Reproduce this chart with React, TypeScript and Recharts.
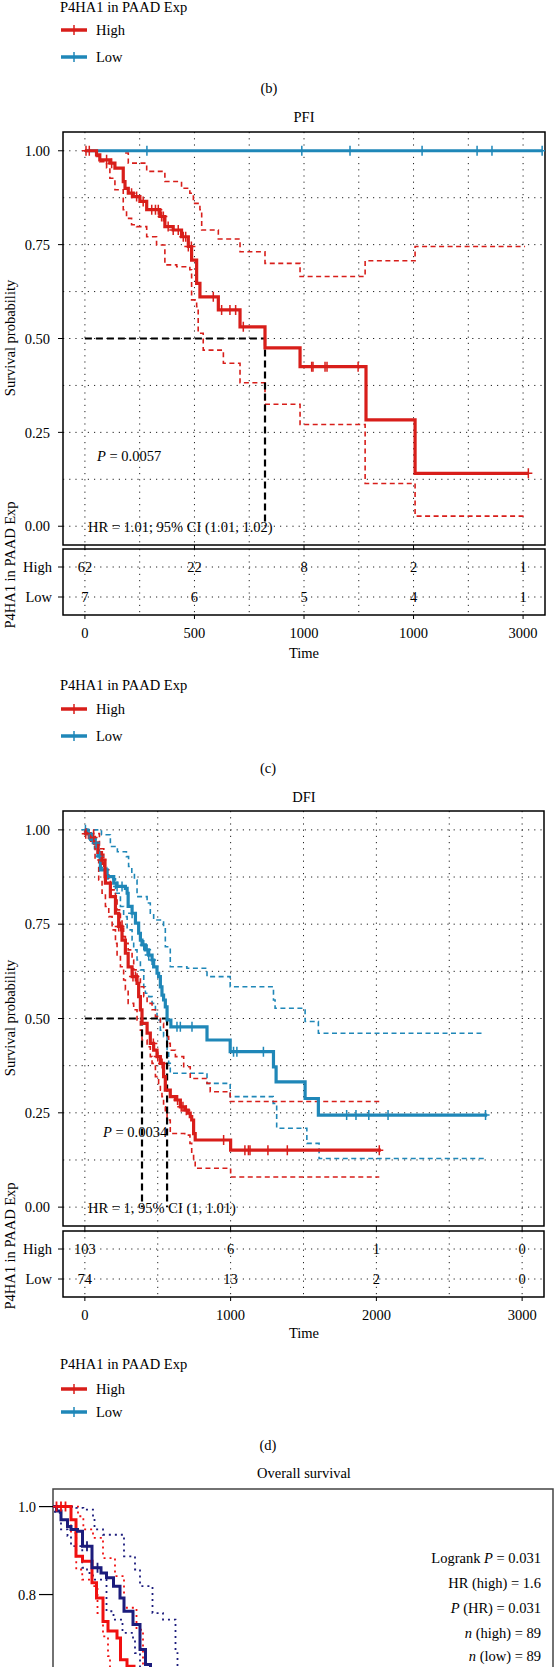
import React from 'react';
import {
  ComposedChart,
  Line,
  Scatter,
  XAxis,
  YAxis,
  CartesianGrid,
  ReferenceArea,
  ReferenceLine,
} from 'recharts';

const FONT = '"Liberation Serif", "Times New Roman", Times, serif';
const FS = 14.5;
const RED = '#D81E1A';
const BLUE = '#1F87B8';
const OS_RED = '#F01010';
const OS_NAVY = '#1C1C7C';

// ---------------- PFI data ----------------
const pfiTimes = [0, 500, 1000, 1500, 2000];
const pfiMinor = [250, 750, 1250, 1750];
const pfiTickLabels = ['0', '500', '1000', '1000', '3000'];
const pfiRiskHigh = [62, 22, 8, 2, 1];
const pfiRiskLow = [7, 6, 5, 4, 1];
const pfiHigh = [[0, 1], [53, 0.989], [68, 0.976], [114, 0.967], [137, 0.954], [175, 0.918], [183, 0.9], [198, 0.887], [221, 0.878], [251, 0.865], [282, 0.843], [342, 0.825], [365, 0.798], [403, 0.789], [441, 0.771], [472, 0.745], [487, 0.709], [510, 0.647], [525, 0.611], [609, 0.576], [708, 0.531], [822, 0.475], [982, 0.425], [1283, 0.283], [1507, 0.141], [2024, 0.141]];
const pfiHighUpper = [[0, 1], [175, 0.994], [198, 0.967], [282, 0.945], [365, 0.918], [441, 0.9], [479, 0.887], [495, 0.86], [525, 0.843], [533, 0.789], [609, 0.765], [708, 0.731], [822, 0.7], [982, 0.665], [1279, 0.707], [1507, 0.745], [2009, 0.745]];
const pfiHighLower = [[0, 1], [53, 0.985], [68, 0.971], [99, 0.954], [114, 0.927], [137, 0.896], [175, 0.843], [190, 0.82], [213, 0.803], [236, 0.798], [282, 0.771], [327, 0.749], [365, 0.696], [419, 0.691], [479, 0.683], [487, 0.603], [510, 0.585], [517, 0.514], [540, 0.469], [632, 0.434], [708, 0.382], [822, 0.325], [982, 0.271], [1279, 0.114], [1507, 0.027], [2009, 0.027]];
const pfiLow = [[0, 1], [2087, 1]];
const pfiHighCensor = [5, 20, 99, 122, 213, 236, 266, 305, 322, 335, 350, 358, 380, 403, 426, 449, 460, 472, 486, 586, 624, 662, 688, 723, 1035, 1041, 1096, 1105, 1247, 2024];
const pfiLowCensor = [283, 990, 1210, 1539, 1790, 1858, 2087];
const pfiMedians = [822];

// ---------------- DFI data ----------------
const dfiTimes = [0, 1000, 2000, 3000];
const dfiMinor = [500, 1500, 2500];
const dfiTickLabels = ['0', '1000', '2000', '3000'];
const dfiRiskHigh = [103, 6, 1, 0];
const dfiRiskLow = [74, 13, 2, 0];
const dfiHigh = [[0, 1], [4, 0.99], [30, 0.98], [66, 0.965], [90, 0.94], [114, 0.92], [138, 0.876], [141, 0.859], [175, 0.823], [210, 0.779], [232, 0.744], [255, 0.708], [278, 0.673], [297, 0.637], [324, 0.611], [358, 0.593], [369, 0.558], [381, 0.523], [392, 0.487], [427, 0.461], [449, 0.434], [472, 0.416], [495, 0.399], [518, 0.381], [540, 0.346], [552, 0.31], [586, 0.293], [621, 0.284], [655, 0.266], [689, 0.257], [709, 0.249], [723, 0.24], [733, 0.231], [746, 0.195], [757, 0.178], [1000, 0.151], [2031, 0.151]];
const dfiHighUpper = [[0, 1], [60, 0.99], [100, 0.95], [130, 0.894], [164, 0.867], [175, 0.841], [210, 0.814], [221, 0.788], [244, 0.761], [255, 0.739], [266, 0.717], [278, 0.699], [297, 0.682], [324, 0.655], [335, 0.629], [358, 0.611], [381, 0.584], [404, 0.558], [427, 0.54], [461, 0.523], [484, 0.505], [518, 0.487], [540, 0.469], [564, 0.452], [575, 0.434], [586, 0.416], [621, 0.399], [678, 0.372], [723, 0.341], [838, 0.328], [860, 0.306], [997, 0.28], [2020, 0.28]];
const dfiHighLower = [[0, 1], [40, 0.97], [70, 0.92], [95, 0.867], [118, 0.832], [141, 0.797], [164, 0.77], [187, 0.735], [210, 0.699], [221, 0.664], [244, 0.637], [266, 0.602], [278, 0.576], [297, 0.54], [335, 0.523], [358, 0.496], [381, 0.469], [392, 0.443], [427, 0.425], [449, 0.399], [461, 0.381], [484, 0.346], [506, 0.328], [518, 0.31], [529, 0.293], [540, 0.266], [552, 0.249], [564, 0.231], [586, 0.195], [685, 0.191], [721, 0.169], [733, 0.142], [746, 0.125], [757, 0.103], [1000, 0.08], [2020, 0.08]];
const dfiLow = [[0, 1], [15, 0.99], [40, 0.975], [66, 0.965], [90, 0.93], [107, 0.894], [153, 0.876], [198, 0.859], [221, 0.85], [278, 0.845], [290, 0.832], [297, 0.797], [324, 0.779], [347, 0.753], [369, 0.726], [381, 0.708], [392, 0.695], [415, 0.682], [438, 0.668], [461, 0.655], [472, 0.637], [495, 0.62], [506, 0.611], [518, 0.584], [529, 0.562], [540, 0.549], [552, 0.531], [564, 0.496], [590, 0.478], [838, 0.443], [997, 0.412], [1294, 0.372], [1312, 0.332], [1511, 0.288], [1602, 0.244], [2760, 0.244]];
const dfiLowUpper = [[0, 1], [50, 1], [114, 0.987], [175, 0.956], [223, 0.942], [285, 0.929], [300, 0.903], [322, 0.885], [340, 0.867], [358, 0.823], [427, 0.806], [449, 0.779], [472, 0.761], [540, 0.744], [552, 0.69], [586, 0.637], [700, 0.633], [838, 0.611], [997, 0.584], [1294, 0.549], [1305, 0.527], [1511, 0.492], [1602, 0.461], [2744, 0.461]];
const dfiLowLower = [[0, 1], [30, 0.98], [66, 0.95], [100, 0.9], [150, 0.87], [210, 0.832], [244, 0.797], [266, 0.77], [290, 0.735], [324, 0.708], [335, 0.682], [358, 0.655], [381, 0.629], [404, 0.584], [415, 0.567], [438, 0.558], [461, 0.54], [484, 0.523], [495, 0.496], [518, 0.469], [540, 0.452], [564, 0.416], [575, 0.381], [586, 0.355], [746, 0.355], [838, 0.328], [997, 0.293], [1292, 0.275], [1316, 0.209], [1523, 0.169], [1607, 0.129], [2737, 0.129]];
const dfiHighCensor = [6, 60, 120, 232, 244, 330, 347, 470, 500, 530, 636, 661, 673, 696, 952, 1098, 1122, 1133, 1256, 1389, 2020];
const dfiLowCensor = [4, 29, 52, 77, 102, 221, 255, 324, 404, 427, 438, 461, 632, 655, 735, 1020, 1043, 1225, 1796, 1860, 1948, 2080, 2749];
const dfiMedians = [392, 564];

// ---------------- Overall survival data ----------------
const osHigh = [[0, 1], [3.6, 0.97], [4.6, 0.887], [5.9, 0.876], [7.8, 0.827], [8.7, 0.792], [10, 0.739], [11, 0.717], [12.8, 0.701], [13.5, 0.652], [14.8, 0.637], [16.2, 0.6]];
const osLow = [[0, 1], [0.7, 0.99], [1.6, 0.97], [2.9, 0.955], [3.6, 0.948], [4.9, 0.944], [5.9, 0.91], [7.8, 0.861], [9.6, 0.849], [10.7, 0.838], [12.1, 0.819], [13.4, 0.792], [14.2, 0.762], [16, 0.732], [17.4, 0.675], [18.5, 0.641], [19.5, 0.6]];
const osHighUpper = [[0, 1], [3.6, 1], [5.0, 0.978], [6.07, 0.948], [8.0, 0.929], [10.0, 0.883], [12.4, 0.842], [14.2, 0.77], [16.7, 0.72], [18, 0.6]];
const osHighLower = [[0, 1], [3.6, 0.94], [4.65, 0.857], [5.85, 0.834], [7.8, 0.819], [8.9, 0.758], [10, 0.705], [11, 0.66], [11.4, 0.6]];
const osLowUpper = [[0, 1], [1.1, 1], [4.65, 0.997], [6.07, 0.993], [8.0, 0.974], [8.3, 0.948], [10.0, 0.936], [14.2, 0.887], [16.4, 0.857], [17.4, 0.819], [19.9, 0.758], [22, 0.743], [24.5, 0.667], [24.9, 0.6]];
const osLowLower = [[0, 1], [0.39, 0.986], [1.6, 0.948], [2.9, 0.933], [3.6, 0.91], [5.85, 0.861], [6.8, 0.849], [8.0, 0.834], [10.7, 0.762], [12.1, 0.743], [13.9, 0.713], [16.0, 0.698], [16.4, 0.667], [17.4, 0.6]];
const osHighCensor = [0.7, 1.6, 2.5];
const osLowCensor = [6.8, 8.9];
const osYTicks = [0.8, 1];

const Y_MAJOR = [0, 0.25, 0.5, 0.75, 1];
const Y_GRID = [0, 0.125, 0.25, 0.375, 0.5, 0.625, 0.75, 0.875, 1];

// ---------------- helpers ----------------
const toPts = (a: number[][]) => a.map(([x, y]) => ({ x, y }));
const stepAt = (curve: number[][], t: number) => {
  let v = curve[0][1];
  for (const [x, y] of curve) {
    if (x <= t) v = y;
    else break;
  }
  return v;
};
const censorPts = (times: number[], curve: number[][]) => times.map((t) => ({ x: t, y: stepAt(curve, t) }));

const plusShape = (color: string, w = 1.5) => (props: any) => {
  const { cx, cy } = props;
  if (cx == null || cy == null || isNaN(cx) || isNaN(cy)) return <g />;
  return (
    <path d={`M${cx - 4},${cy}H${cx + 4}M${cx},${cy - 5}V${cy + 5}`} stroke={color} strokeWidth={w} fill="none" />
  );
};

const tickStyle = { fill: '#000', fontSize: FS, fontFamily: FONT };

type LineSpec = { data: number[][]; color: string; width: number; dash?: string };
type CensorSpec = { times: number[]; curve: number[][]; color: string };

function KMMain(p: {
  plotTop: number;
  plotBottom: number;
  x0: number;
  x1: number;
  xDomain: [number, number];
  xMajor: number[];
  xMinor: number[];
  lines: LineSpec[];
  censors: CensorSpec[];
  medians: number[];
}) {
  const mt = 10;
  const xh = 8;
  const H = p.plotBottom - p.plotTop + mt + xh;
  const mMax = Math.max(...p.medians);
  return (
    <div style={{ position: 'absolute', left: 0, top: p.plotTop - mt, width: 556, height: H }}>
      <ComposedChart width={556} height={H} margin={{ top: mt, right: 556 - p.x1, bottom: 0, left: 0 }}>
        <CartesianGrid
          stroke="#222"
          strokeDasharray="1.2 5"
          verticalValues={[...p.xMajor, ...p.xMinor]}
          horizontalValues={Y_GRID}
        />
        <XAxis
          type="number"
          dataKey="x"
          domain={p.xDomain}
          allowDataOverflow
          ticks={p.xMajor}
          interval={0}
          height={xh}
          tickSize={5}
          axisLine={false}
          tickLine={{ stroke: '#000' }}
          tickFormatter={() => ''}
        />
        <YAxis
          type="number"
          dataKey="y"
          domain={[-0.05, 1.05]}
          allowDataOverflow
          ticks={Y_MAJOR}
          interval={0}
          width={p.x0}
          tickSize={5}
          tickMargin={8}
          axisLine={false}
          tickLine={{ stroke: '#000' }}
          tick={tickStyle}
          tickFormatter={(v: number) => v.toFixed(2)}
        />
        <ReferenceArea
          x1={p.xDomain[0]}
          x2={p.xDomain[1]}
          y1={-0.05}
          y2={1.05}
          fill="none"
          stroke="#000"
          strokeWidth={1.5}
          ifOverflow="visible"
        />
        {p.lines
          .filter((l) => l.dash)
          .map((l, i) => (
            <Line
              key={'d' + i}
              data={toPts(l.data)}
              dataKey="y"
              type="stepAfter"
              stroke={l.color}
              strokeWidth={l.width}
              strokeDasharray={l.dash}
              dot={false}
              activeDot={false}
              isAnimationActive={false}
            />
          ))}
        <ReferenceLine
          segment={[{ x: 0, y: 0.5 }, { x: mMax, y: 0.5 }]}
          stroke="#000"
          strokeWidth={2}
          strokeDasharray="7 4"
          ifOverflow="visible"
        />
        {p.medians.map((m, i) => (
          <ReferenceLine
            key={'m' + i}
            segment={[{ x: m, y: 0.5 }, { x: m, y: 0 }]}
            stroke="#000"
            strokeWidth={2.2}
            strokeDasharray="7 4"
            ifOverflow="visible"
          />
        ))}
        {p.lines
          .filter((l) => !l.dash)
          .map((l, i) => (
            <Line
              key={'s' + i}
              data={toPts(l.data)}
              dataKey="y"
              type="stepAfter"
              stroke={l.color}
              strokeWidth={l.width}
              dot={false}
              activeDot={false}
              isAnimationActive={false}
            />
          ))}
        {p.censors.map((c, i) => (
          <Scatter
            key={'c' + i}
            data={censorPts(c.times, c.curve)}
            dataKey="y"
            shape={plusShape(c.color)}
            isAnimationActive={false}
          />
        ))}
      </ComposedChart>
    </div>
  );
}

function RiskTable(p: {
  boxTop: number;
  boxBottom: number;
  x0: number;
  x1: number;
  xDomain: [number, number];
  xMajor: number[];
  xMinor: number[];
  labels: string[];
  high: number[];
  low: number[];
}) {
  const mt = 10;
  const xh = 30;
  const H = p.boxBottom - p.boxTop + mt + xh;
  const pts = [
    ...p.xMajor.map((t, i) => ({ x: t, y: 2, n: p.high[i] })),
    ...p.xMajor.map((t, i) => ({ x: t, y: 1, n: p.low[i] })),
  ];
  const textShape = (props: any) => {
    const { cx, cy } = props;
    const n = props.payload?.n ?? props.n;
    if (cx == null || cy == null) return <g />;
    return (
      <text x={cx} y={cy} textAnchor="middle" dominantBaseline="central" fontFamily={FONT} fontSize={FS} fill="#000">
        {n}
      </text>
    );
  };
  return (
    <div style={{ position: 'absolute', left: 0, top: p.boxTop - mt, width: 556, height: H }}>
      <ComposedChart width={556} height={H} margin={{ top: mt, right: 556 - p.x1, bottom: 0, left: 0 }}>
        <CartesianGrid
          stroke="#222"
          strokeDasharray="1.2 5"
          verticalValues={[...p.xMajor, ...p.xMinor]}
          horizontalValues={[1, 2]}
        />
        <XAxis
          type="number"
          dataKey="x"
          domain={p.xDomain}
          allowDataOverflow
          ticks={p.xMajor}
          interval={0}
          height={xh}
          tickSize={4}
          tickMargin={9}
          axisLine={false}
          tickLine={{ stroke: '#000' }}
          tick={tickStyle}
          tickFormatter={(v: number, i: number) => p.labels[i] ?? String(v)}
        />
        <YAxis
          type="number"
          dataKey="y"
          domain={[0.4, 2.6]}
          allowDataOverflow
          ticks={[1, 2]}
          interval={0}
          width={p.x0}
          tickSize={5}
          tickMargin={6}
          axisLine={false}
          tickLine={{ stroke: '#000' }}
          tick={tickStyle}
          tickFormatter={(v: number) => (v === 2 ? 'High' : 'Low')}
        />
        <ReferenceArea
          x1={p.xDomain[0]}
          x2={p.xDomain[1]}
          y1={0.4}
          y2={2.6}
          fill="none"
          stroke="#000"
          strokeWidth={1.5}
          ifOverflow="visible"
        />
        <Scatter data={pts} dataKey="y" shape={textShape} isAnimationActive={false} />
      </ComposedChart>
    </div>
  );
}

function OSChart() {
  const top = 1489;
  const mt = 10;
  const plotH = 475;
  const H = plotH + mt + 10;
  const dotted = '2 4';
  const lines: LineSpec[] = [
    { data: osHighUpper, color: OS_RED, width: 1.8, dash: dotted },
    { data: osHighLower, color: OS_RED, width: 1.8, dash: dotted },
    { data: osLowUpper, color: OS_NAVY, width: 1.8, dash: dotted },
    { data: osLowLower, color: OS_NAVY, width: 1.8, dash: dotted },
    { data: osHigh, color: OS_RED, width: 3 },
    { data: osLow, color: OS_NAVY, width: 3 },
  ];
  return (
    <div style={{ position: 'absolute', left: 0, top: top - mt, width: 556, height: H }}>
      <ComposedChart width={556} height={H} margin={{ top: mt, right: 3, bottom: 10, left: 0 }}>
        <XAxis type="number" dataKey="x" domain={[0, 100]} allowDataOverflow hide />
        <YAxis
          type="number"
          dataKey="y"
          domain={[-0.04, 1.04]}
          allowDataOverflow
          ticks={osYTicks}
          interval={0}
          width={53}
          tickSize={14}
          tickMargin={3}
          axisLine={false}
          tickLine={{ stroke: '#000', strokeWidth: 1.2 }}
          tick={tickStyle}
          tickFormatter={(v: number) => v.toFixed(1)}
        />
        <ReferenceArea x1={0} x2={100} y1={-0.04} y2={1.04} fill="none" stroke="#444" strokeWidth={1.5} ifOverflow="visible" />
        {lines.map((l, i) => (
          <Line
            key={i}
            data={toPts(l.data)}
            dataKey="y"
            type="stepAfter"
            stroke={l.color}
            strokeWidth={l.width}
            strokeDasharray={l.dash}
            dot={false}
            activeDot={false}
            isAnimationActive={false}
          />
        ))}
        <Scatter data={censorPts(osHighCensor, osHigh)} dataKey="y" shape={plusShape(OS_RED, 1.8)} isAnimationActive={false} />
        <Scatter data={censorPts(osLowCensor, osLow)} dataKey="y" shape={plusShape(OS_NAVY, 1.8)} isAnimationActive={false} />
      </ComposedChart>
    </div>
  );
}

const T = (props: any) => (
  <text fontFamily={FONT} fontSize={FS} fill="#000" dominantBaseline="central" {...props} />
);

function LegendBlock({ yTitle, yHigh, yLow }: { yTitle: number; yHigh: number; yLow: number }) {
  const items: [string, string, number][] = [
    ['High', RED, yHigh],
    ['Low', BLUE, yLow],
  ];
  return (
    <g>
      <T x={60} y={yTitle}>P4HA1 in PAAD Exp</T>
      {items.map(([name, c, y]) => (
        <g key={name}>
          <line x1={61} x2={87} y1={y} y2={y} stroke={c} strokeWidth={3.5} />
          <line x1={74} x2={74} y1={y - 5} y2={y + 5} stroke={c} strokeWidth={1.5} />
          <T x={96} y={y}>{name}</T>
        </g>
      ))}
    </g>
  );
}

function Overlay() {
  return (
    <svg
      width={556}
      height={1667}
      style={{ position: 'absolute', left: 0, top: 0, pointerEvents: 'none' }}
    >
      {/* (b) legend */}
      <LegendBlock yTitle={7} yHigh={30} yLow={57} />
      <T x={269} y={88} textAnchor="middle">(b)</T>

      {/* PFI */}
      <T x={304} y={117} textAnchor="middle">PFI</T>
      <T x={10} y={338} textAnchor="middle" transform="rotate(-90 10 338)">Survival probability</T>
      <T x={10} y={565} textAnchor="middle" transform="rotate(-90 10 565)">P4HA1 in PAAD Exp</T>
      <T x={97} y={456}>
        <tspan fontStyle="italic">P</tspan> = 0.0057
      </T>
      <T x={88} y={527}>HR = 1.01; 95% CI (1.01, 1.02)</T>
      <T x={304} y={653} textAnchor="middle">Time</T>
      <LegendBlock yTitle={685} yHigh={709} yLow={736} />
      <T x={268} y={768} textAnchor="middle">(c)</T>

      {/* DFI */}
      <T x={304} y={797} textAnchor="middle">DFI</T>
      <T x={10} y={1018} textAnchor="middle" transform="rotate(-90 10 1018)">Survival probability</T>
      <T x={10} y={1246} textAnchor="middle" transform="rotate(-90 10 1246)">P4HA1 in PAAD Exp</T>
      <T x={103} y={1132}>
        <tspan fontStyle="italic">P</tspan> = 0.0034
      </T>
      <T x={88} y={1208}>HR = 1, 95% CI (1, 1.01)</T>
      <T x={304} y={1333} textAnchor="middle">Time</T>
      <LegendBlock yTitle={1364} yHigh={1389} yLow={1412} />
      <T x={268} y={1445} textAnchor="middle">(d)</T>

      {/* Overall survival */}
      <T x={304} y={1473} textAnchor="middle">Overall survival</T>
      <T x={541} y={1558} textAnchor="end">
        Logrank <tspan fontStyle="italic">P</tspan> = 0.031
      </T>
      <T x={541} y={1583} textAnchor="end">HR (high) = 1.6</T>
      <T x={541} y={1608} textAnchor="end">
        <tspan fontStyle="italic">P</tspan> (HR) = 0.031
      </T>
      <T x={541} y={1633} textAnchor="end">
        <tspan fontStyle="italic">n</tspan> (high) = 89
      </T>
      <T x={541} y={1656} textAnchor="end">
        <tspan fontStyle="italic">n</tspan> (low) = 89
      </T>
    </svg>
  );
}

export default function App() {
  const dash = '5 3.5';
  return (
    <div
      style={{
        position: 'fixed',
        left: 0,
        top: 0,
        width: 556,
        height: 1667,
        overflow: 'hidden',
        background: '#fff',
        fontFamily: FONT,
      }}
    >
      <KMMain
        plotTop={132}
        plotBottom={545}
        x0={63}
        x1={545}
        xDomain={[-100, 2100]}
        xMajor={pfiTimes}
        xMinor={pfiMinor}
        medians={pfiMedians}
        lines={[
          { data: pfiHighUpper, color: RED, width: 1.6, dash },
          { data: pfiHighLower, color: RED, width: 1.6, dash },
          { data: pfiLow, color: BLUE, width: 3.2 },
          { data: pfiHigh, color: RED, width: 3.2 },
        ]}
        censors={[
          { times: pfiLowCensor, curve: pfiLow, color: BLUE },
          { times: pfiHighCensor, curve: pfiHigh, color: RED },
        ]}
      />
      <RiskTable
        boxTop={549}
        boxBottom={615}
        x0={63}
        x1={545}
        xDomain={[-100, 2100]}
        xMajor={pfiTimes}
        xMinor={pfiMinor}
        labels={pfiTickLabels}
        high={pfiRiskHigh}
        low={pfiRiskLow}
      />
      <KMMain
        plotTop={811}
        plotBottom={1226}
        x0={63}
        x1={544}
        xDomain={[-150, 3150]}
        xMajor={dfiTimes}
        xMinor={dfiMinor}
        medians={dfiMedians}
        lines={[
          { data: dfiLowUpper, color: BLUE, width: 1.6, dash },
          { data: dfiLowLower, color: BLUE, width: 1.6, dash },
          { data: dfiHighUpper, color: RED, width: 1.6, dash },
          { data: dfiHighLower, color: RED, width: 1.6, dash },
          { data: dfiLow, color: BLUE, width: 3.2 },
          { data: dfiHigh, color: RED, width: 3.2 },
        ]}
        censors={[
          { times: dfiLowCensor, curve: dfiLow, color: BLUE },
          { times: dfiHighCensor, curve: dfiHigh, color: RED },
        ]}
      />
      <RiskTable
        boxTop={1231}
        boxBottom={1297}
        x0={63}
        x1={544}
        xDomain={[-150, 3150]}
        xMajor={dfiTimes}
        xMinor={dfiMinor}
        labels={dfiTickLabels}
        high={dfiRiskHigh}
        low={dfiRiskLow}
      />
      <OSChart />
      <Overlay />
    </div>
  );
}
